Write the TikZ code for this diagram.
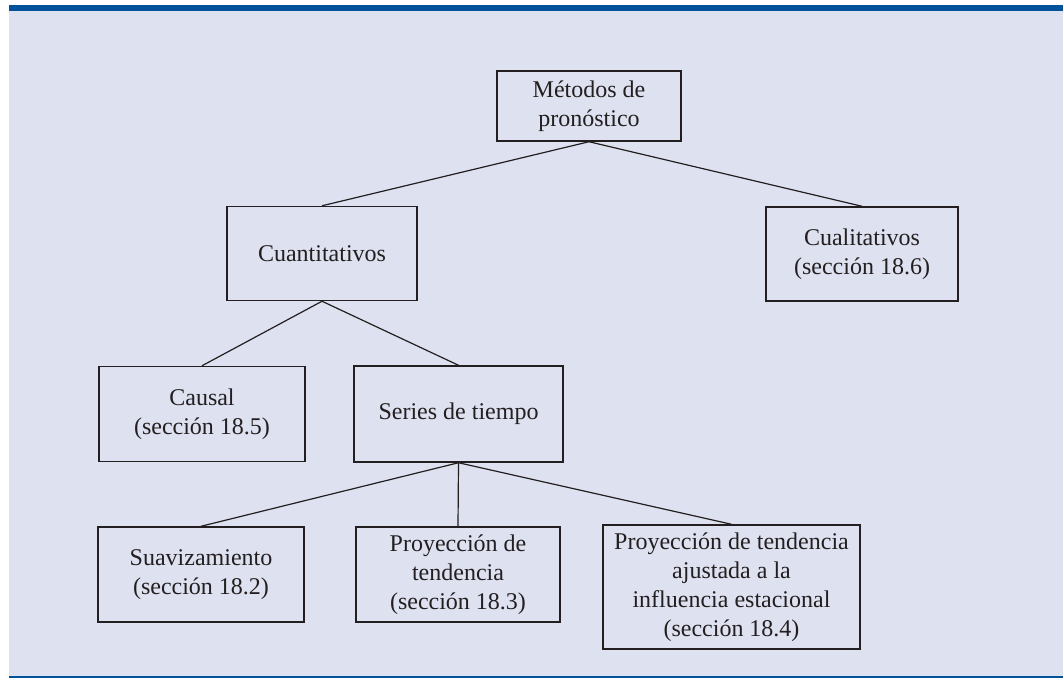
\documentclass[tikz,border=0pt]{standalone}
\usepackage{fontspec}
\setmainfont{Liberation Serif}
\definecolor{panel}{HTML}{DEE1F0}
\definecolor{bar}{HTML}{00529B}
\definecolor{ink}{HTML}{231F20}

\begin{document}
\begin{tikzpicture}[
  x=0.75pt, y=-0.75pt,
  box/.style={draw=ink, line width=1.1pt, align=center, text=ink,
              font=\fontsize{18}{21.8}\selectfont, inner sep=0pt},
  link/.style={draw=ink, line width=0.9pt}
]
\useasboundingbox (0,0) rectangle (1063,678);

% frame
\fill[panel] (9,11) rectangle (1063,677);
\fill[bar] (9,5) rectangle (1063,11);
\draw[bar, line width=0.8pt] (9,677) -- (1063,677);

% boxes
\node[box, minimum width=138pt, minimum height=52.5pt] (metodos) at (589,106)
  {M\'etodos de\\pron\'ostico};
\node[box, minimum width=142.5pt, minimum height=70.5pt] (cuanti) at (322,253.5)
  {Cuantitativos};
\node[box, minimum width=144pt, minimum height=70.5pt] (cuali) at (862,254)
  {Cualitativos\\(secci\'on 18.6)};
\node[box, minimum width=154.5pt, minimum height=71.25pt] (causal) at (202,414)
  {Causal\\(secci\'on 18.5)};
\node[box, minimum width=156.75pt, minimum height=72pt] (series) at (458.5,414)
  {Series de tiempo};
\node[box, minimum width=154.5pt, minimum height=71.25pt] (suav) at (201,574.5)
  {Suavizamiento\\(secci\'on 18.2)};
\node[box, minimum width=153pt, minimum height=71.25pt] (proy) at (458,574.5)
  {Proyecci\'on de\\tendencia\\(secci\'on 18.3)};
\node[box, minimum width=192.75pt, minimum height=93pt] (ajuste) at (731.5,587)
  {Proyecci\'on de tendencia\\ajustada a la\\influencia estacional\\(secci\'on 18.4)};

% connectors
\draw[link] (metodos.south) -- (cuanti.north);
\draw[link] (metodos.south) -- (cuali.north);
\draw[link] (cuanti.south) -- (causal.north);
\draw[link] (cuanti.south) -- (series.north);
\draw[link] (series.south) -- (suav.north);
\draw[link] (series.south) -- (proy.north);
\draw[link] (series.south) -- (ajuste.north);

\end{tikzpicture}
\end{document}
